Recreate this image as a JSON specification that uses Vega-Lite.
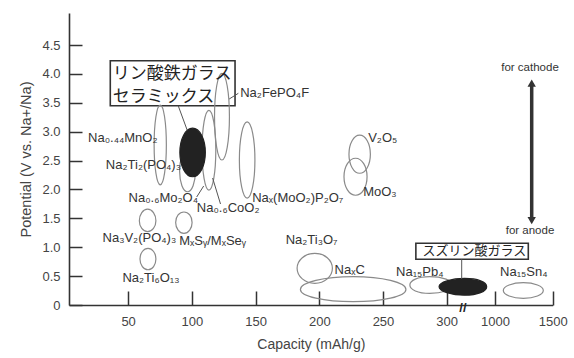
{
  "$schema": "https://vega.github.io/schema/vega-lite/v6.json",
  "width": 484,
  "height": 292,
  "autosize": {"type": "none"},
  "padding": {"left": 69, "top": 13, "right": 21, "bottom": 53},
  "background": "white",
  "config": {"view": {"stroke": null}, "font": "Liberation Sans"},
  "datasets": {
    "ellipses": [
      {"material": "Na0.44MnO2", "kind": "reported", "point": 1, "capacity": 70.4, "potential": 2.77},
      {"material": "Na0.44MnO2", "kind": "reported", "point": 2, "capacity": 75.2, "potential": 3.46},
      {"material": "Na0.44MnO2", "kind": "reported", "point": 3, "capacity": 80.0, "potential": 2.77},
      {"material": "Na0.44MnO2", "kind": "reported", "point": 4, "capacity": 75.2, "potential": 2.08},
      {"material": "FePglass", "kind": "glass", "point": 1, "capacity": 90.6, "potential": 2.64},
      {"material": "FePglass", "kind": "glass", "point": 2, "capacity": 100.6, "potential": 3.06},
      {"material": "FePglass", "kind": "glass", "point": 3, "capacity": 110.6, "potential": 2.64},
      {"material": "FePglass", "kind": "glass", "point": 4, "capacity": 100.6, "potential": 2.22},
      {"material": "Na2Ti2(PO4)3", "kind": "reported", "point": 1, "capacity": 90.4, "potential": 2.32},
      {"material": "Na2Ti2(PO4)3", "kind": "reported", "point": 2, "capacity": 96.6, "potential": 2.68},
      {"material": "Na2Ti2(PO4)3", "kind": "reported", "point": 3, "capacity": 102.8, "potential": 2.32},
      {"material": "Na2Ti2(PO4)3", "kind": "reported", "point": 4, "capacity": 96.6, "potential": 1.96},
      {"material": "Na0.6Mo2O4", "kind": "reported", "point": 1, "capacity": 108.0, "potential": 2.68},
      {"material": "Na0.6Mo2O4", "kind": "reported", "point": 2, "capacity": 113.4, "potential": 3.37},
      {"material": "Na0.6Mo2O4", "kind": "reported", "point": 3, "capacity": 118.8, "potential": 2.68},
      {"material": "Na0.6Mo2O4", "kind": "reported", "point": 4, "capacity": 113.4, "potential": 1.99},
      {"material": "Na2FePO4F", "kind": "reported", "point": 1, "capacity": 117.8, "potential": 3.26},
      {"material": "Na2FePO4F", "kind": "reported", "point": 2, "capacity": 123.6, "potential": 4.01},
      {"material": "Na2FePO4F", "kind": "reported", "point": 3, "capacity": 129.5, "potential": 3.26},
      {"material": "Na2FePO4F", "kind": "reported", "point": 4, "capacity": 123.6, "potential": 2.51},
      {"material": "Nax(MoO2)P2O7", "kind": "reported", "point": 1, "capacity": 137.3, "potential": 2.51},
      {"material": "Nax(MoO2)P2O7", "kind": "reported", "point": 2, "capacity": 143.4, "potential": 3.17},
      {"material": "Nax(MoO2)P2O7", "kind": "reported", "point": 3, "capacity": 149.5, "potential": 2.51},
      {"material": "Nax(MoO2)P2O7", "kind": "reported", "point": 4, "capacity": 143.4, "potential": 1.85},
      {"material": "V2O5", "kind": "reported", "point": 1, "capacity": 223.3, "potential": 2.61},
      {"material": "V2O5", "kind": "reported", "point": 2, "capacity": 231.7, "potential": 2.94},
      {"material": "V2O5", "kind": "reported", "point": 3, "capacity": 240.1, "potential": 2.61},
      {"material": "V2O5", "kind": "reported", "point": 4, "capacity": 231.7, "potential": 2.28},
      {"material": "MoO3", "kind": "reported", "point": 1, "capacity": 219.4, "potential": 2.22},
      {"material": "MoO3", "kind": "reported", "point": 2, "capacity": 228.5, "potential": 2.54},
      {"material": "MoO3", "kind": "reported", "point": 3, "capacity": 237.5, "potential": 2.22},
      {"material": "MoO3", "kind": "reported", "point": 4, "capacity": 228.5, "potential": 1.90},
      {"material": "Na3V2(PO4)3", "kind": "reported", "point": 1, "capacity": 58.8, "potential": 1.46},
      {"material": "Na3V2(PO4)3", "kind": "reported", "point": 2, "capacity": 65.3, "potential": 1.66},
      {"material": "Na3V2(PO4)3", "kind": "reported", "point": 3, "capacity": 71.8, "potential": 1.46},
      {"material": "Na3V2(PO4)3", "kind": "reported", "point": 4, "capacity": 65.3, "potential": 1.27},
      {"material": "MxSy/MxSey", "kind": "reported", "point": 1, "capacity": 87.3, "potential": 1.43},
      {"material": "MxSy/MxSey", "kind": "reported", "point": 2, "capacity": 93.8, "potential": 1.61},
      {"material": "MxSy/MxSey", "kind": "reported", "point": 3, "capacity": 100.2, "potential": 1.43},
      {"material": "MxSy/MxSey", "kind": "reported", "point": 4, "capacity": 93.8, "potential": 1.24},
      {"material": "Na2Ti6O13", "kind": "reported", "point": 1, "capacity": 59.3, "potential": 0.795},
      {"material": "Na2Ti6O13", "kind": "reported", "point": 2, "capacity": 65.6, "potential": 0.98},
      {"material": "Na2Ti6O13", "kind": "reported", "point": 3, "capacity": 71.8, "potential": 0.795},
      {"material": "Na2Ti6O13", "kind": "reported", "point": 4, "capacity": 65.6, "potential": 0.61},
      {"material": "NaxC", "kind": "reported", "point": 1, "capacity": 185.2, "potential": 0.27},
      {"material": "NaxC", "kind": "reported", "point": 2, "capacity": 226.6, "potential": 0.49},
      {"material": "NaxC", "kind": "reported", "point": 3, "capacity": 268.0, "potential": 0.27},
      {"material": "NaxC", "kind": "reported", "point": 4, "capacity": 226.6, "potential": 0.057},
      {"material": "Na2Ti3O7", "kind": "reported", "point": 1, "capacity": 182.6, "potential": 0.635},
      {"material": "Na2Ti3O7", "kind": "reported", "point": 2, "capacity": 196.5, "potential": 0.895},
      {"material": "Na2Ti3O7", "kind": "reported", "point": 3, "capacity": 210.3, "potential": 0.635},
      {"material": "Na2Ti3O7", "kind": "reported", "point": 4, "capacity": 196.5, "potential": 0.376},
      {"material": "Na15Pb4", "kind": "reported", "point": 1, "capacity": 271.1, "potential": 0.345},
      {"material": "Na15Pb4", "kind": "reported", "point": 2, "capacity": 286.7, "potential": 0.49},
      {"material": "Na15Pb4", "kind": "reported", "point": 3, "capacity": 395.6, "potential": 0.345},
      {"material": "Na15Pb4", "kind": "reported", "point": 4, "capacity": 286.7, "potential": 0.20},
      {"material": "SnPglass", "kind": "glass", "point": 1, "capacity": 294.0, "potential": 0.317},
      {"material": "SnPglass", "kind": "glass", "point": 2, "capacity": 560.8, "potential": 0.46},
      {"material": "SnPglass", "kind": "glass", "point": 3, "capacity": 879.6, "potential": 0.317},
      {"material": "SnPglass", "kind": "glass", "point": 4, "capacity": 560.8, "potential": 0.17},
      {"material": "Na15Sn4", "kind": "reported", "point": 1, "capacity": 1071.9, "potential": 0.25},
      {"material": "Na15Sn4", "kind": "reported", "point": 2, "capacity": 1245.2, "potential": 0.386},
      {"material": "Na15Sn4", "kind": "reported", "point": 3, "capacity": 1418.6, "potential": 0.25},
      {"material": "Na15Sn4", "kind": "reported", "point": 4, "capacity": 1245.2, "potential": 0.116}
    ],
    "labels": [
      {"label": "Na₀.₄₄MnO₂", "capacity": 45.8, "potential": 2.885},
      {"label": "Na₂Ti₂(PO₄)₃", "capacity": 62.0, "potential": 2.423},
      {"label": "Na₂FePO₄F", "capacity": 165.0, "potential": 3.664},
      {"label": "Na₀.₆Mo₂O₄", "capacity": 77.6, "potential": 1.847},
      {"label": "Na₀.₆CoO₂", "capacity": 128.5, "potential": 1.679},
      {"label": "Naₓ(MoO₂)P₂O₇", "capacity": 183.1, "potential": 1.852},
      {"label": "V₂O₅", "capacity": 249.8, "potential": 2.885},
      {"label": "MoO₃", "capacity": 247.6, "potential": 1.961},
      {"label": "Na₃V₂(PO₄)₃", "capacity": 58.8, "potential": 1.154},
      {"label": "MₓSᵧ/MₓSeᵧ", "capacity": 116.3, "potential": 1.108},
      {"label": "Na₂Ti₆O₁₃", "capacity": 67.9, "potential": 0.462},
      {"label": "Na₂Ti₃O₇", "capacity": 194.0, "potential": 1.125},
      {"label": "NaₓC", "capacity": 223.9, "potential": 0.606},
      {"label": "Na₁₅Pb₄", "capacity": 278.9, "potential": 0.576},
      {"label": "Na₁₅Sn₄", "capacity": 1249.6, "potential": 0.576}
    ],
    "notes": [
      {"label": "for cathode", "capacity": 1303.3, "potential": 4.097},
      {"label": "for anode", "capacity": 1303.3, "potential": 1.281}
    ],
    "boxes": [
      {"box": "FeP", "capacity": 36.0, "capacity2": 133.9, "potential": 4.228, "potential2": 3.449},
      {"box": "SnP", "capacity": 275.8, "capacity2": 1288.6, "potential": 1.068, "potential2": 0.791}
    ],
    "boxtext": [
      {"box": "FeP", "text": "リン酸鉄ガラス", "capacity": 38.0, "potential": 4.0},
      {"box": "FeP", "text": "セラミックス", "capacity": 38.0, "potential": 3.605},
      {"box": "SnP", "text": "スズリン酸ガラス", "capacity": 700, "potential": 0.929}
    ],
    "leaders": [
      {"capacity": 96.3, "potential": 3.029, "capacity2": 89.3, "potential2": 3.449},
      {"capacity": 129.3, "potential": 3.565, "capacity2": 136.5, "potential2": 3.664},
      {"capacity": 103.8, "potential": 1.869, "capacity2": 109.3, "potential2": 2.06},
      {"capacity": 116.3, "potential": 2.198, "capacity2": 122.5, "potential2": 1.748},
      {"capacity": 517.4, "potential": 0.791, "capacity2": 517.4, "potential2": 0.45}
    ],
    "arrow": [
      {"capacity": 1318, "potential": 1.462, "potential2": 3.842}
    ],
    "arrowheads": [
      {"end": "top", "capacity": 1318, "potential": 3.842},
      {"end": "bottom", "capacity": 1318, "potential": 1.462}
    ],
    "axisbreak": [
      {"text": "//", "capacity": 536, "potential": 0}
    ]
  },
  "encoding": {
    "x": {
      "field": "capacity",
      "type": "quantitative",
      "scale": {"domain": [3.6, 300, 1000, 1500], "range": [0, 377.7, 426, 483.7], "nice": false, "zero": false},
      "axis": {
        "title": "Capacity (mAh/g)",
        "values": [50, 100, 150, 200, 250, 300, 1000, 1500],
        "format": "d",
        "grid": false,
        "tickSize": -14,
        "tickWidth": 1.5,
        "tickColor": "#333",
        "domainColor": "#333",
        "domainWidth": 1.6,
        "labelPadding": 24,
        "labelFontSize": 13,
        "labelColor": "#444",
        "labelFont": "Liberation Sans",
        "labelFlush": false,
        "titleFont": "Liberation Sans",
        "titleFontSize": 14,
        "titleFontWeight": "normal",
        "titleColor": "#444",
        "titlePadding": 9
      }
    },
    "y": {
      "field": "potential",
      "type": "quantitative",
      "scale": {"domain": [0, 5.054], "nice": false, "zero": false},
      "axis": {
        "title": "Potential (V vs. Na+/Na)",
        "values": [0, 0.5, 1, 1.5, 2, 2.5, 3, 3.5, 4, 4.5],
        "labelExpr": "datum.value == 0 ? '0' : format(datum.value, '.1f')",
        "grid": false,
        "tickSize": -13,
        "tickWidth": 1.5,
        "tickColor": "#333",
        "domainColor": "#333",
        "domainWidth": 1.6,
        "labelPadding": 22,
        "labelFontSize": 13,
        "labelColor": "#444",
        "labelFont": "Liberation Sans",
        "labelFlush": false,
        "titleFont": "Liberation Sans",
        "titleFontSize": 14.5,
        "titleFontWeight": "normal",
        "titleColor": "#444",
        "titlePadding": 8
      }
    }
  },
  "layer": [
    {
      "data": {"name": "boxes"},
      "mark": {"type": "rect", "fill": "white", "stroke": "#333", "strokeWidth": 1.6},
      "encoding": {"x2": {"field": "capacity2"}, "y2": {"field": "potential2"}}
    },
    {
      "data": {"name": "ellipses"},
      "transform": [{"filter": "datum.kind == 'reported'"}],
      "mark": {"type": "line", "interpolate": "cardinal-closed", "tension": -0.657, "stroke": "#8a8a8a", "strokeWidth": 1.2},
      "encoding": {"detail": {"field": "material"}, "order": {"field": "point", "type": "quantitative"}}
    },
    {
      "data": {"name": "ellipses"},
      "transform": [{"filter": "datum.kind == 'glass'"}],
      "mark": {"type": "line", "interpolate": "cardinal-closed", "tension": -0.657, "stroke": "#222", "fill": "#222", "strokeWidth": 1.2},
      "encoding": {"detail": {"field": "material"}, "order": {"field": "point", "type": "quantitative"}}
    },
    {
      "data": {"name": "leaders"},
      "mark": {"type": "rule", "stroke": "#555", "strokeWidth": 1},
      "encoding": {"x2": {"field": "capacity2"}, "y2": {"field": "potential2"}}
    },
    {
      "data": {"name": "arrow"},
      "mark": {"type": "rule", "stroke": "#333", "strokeWidth": 3.5},
      "encoding": {"y2": {"field": "potential2"}}
    },
    {
      "data": {"name": "arrowheads"},
      "mark": {"type": "point", "filled": true, "fill": "#333", "stroke": null, "size": 70, "opacity": 1},
      "encoding": {
        "shape": {"field": "end", "type": "nominal", "scale": {"domain": ["top", "bottom"], "range": ["triangle-up", "triangle-down"]}, "legend": null}
      }
    },
    {
      "data": {"name": "labels"},
      "mark": {"type": "text", "align": "center", "baseline": "middle", "fontSize": 13, "fill": "#333", "font": "Liberation Sans"},
      "encoding": {"text": {"field": "label"}}
    },
    {
      "data": {"name": "notes"},
      "mark": {"type": "text", "align": "center", "baseline": "middle", "fontSize": 11.5, "fill": "#333", "font": "Liberation Sans"},
      "encoding": {"text": {"field": "label"}}
    },
    {
      "data": {"name": "boxtext"},
      "transform": [{"filter": "datum.box == 'FeP'"}],
      "mark": {"type": "text", "align": "left", "baseline": "middle", "fontSize": 17, "fill": "#222", "font": "Noto Sans CJK JP"},
      "encoding": {"text": {"field": "text"}}
    },
    {
      "data": {"name": "boxtext"},
      "transform": [{"filter": "datum.box == 'SnP'"}],
      "mark": {"type": "text", "align": "center", "baseline": "middle", "fontSize": 13, "fill": "#222", "font": "Noto Sans CJK JP"},
      "encoding": {"text": {"field": "text"}}
    },
    {
      "data": {"name": "axisbreak"},
      "mark": {"type": "text", "align": "center", "baseline": "middle", "fontSize": 13, "fontWeight": "bold", "fill": "#222", "dy": 3},
      "encoding": {"text": {"field": "text"}}
    }
  ]
}
